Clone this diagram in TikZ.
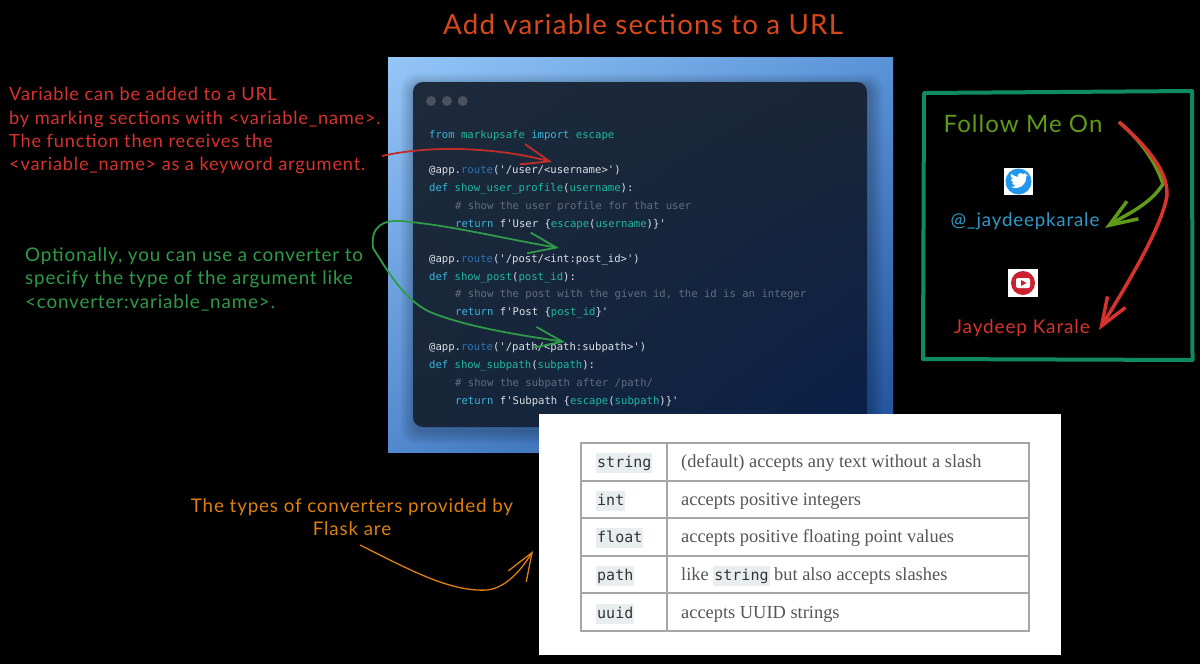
\documentclass[tikz,border=0pt]{standalone}
\usepackage{fontspec}
\setmainfont{Lato}[LetterSpace=4.5]
\newfontfamily\codefont{DejaVu Sans Mono}
\newfontfamily\tablefont{Liberation Serif}
\usetikzlibrary{arrows.meta,positioning,shadings}

\definecolor{titleorange}{HTML}{D9481C}
\definecolor{notered}{HTML}{D6322E}
\definecolor{notegreen}{HTML}{2F9A48}
\definecolor{noteorange}{HTML}{DE7F10}
\definecolor{boxgreen}{HTML}{0F8A62}
\definecolor{follow}{HTML}{5F9A18}
\definecolor{handle}{HTML}{2F9AC8}
\definecolor{codewhite}{HTML}{DCE0E5}
\definecolor{codekey}{HTML}{3BB5D8}
\definecolor{codename}{HTML}{1FB8A0}
\definecolor{coderoute}{HTML}{2A74B8}
\definecolor{codegrey}{HTML}{626E7E}
\definecolor{tagfill}{HTML}{E8EEF0}
\definecolor{tablegrey}{HTML}{555555}
\definecolor{skyul}{HTML}{94C6F7}
\definecolor{skyur}{HTML}{5A93D8}
\definecolor{skyll}{HTML}{5288CE}
\definecolor{skylr}{HTML}{1E4F9A}
\definecolor{panelul}{HTML}{1C2A3C}
\definecolor{panelur}{HTML}{1A2637}
\definecolor{panelll}{HTML}{182638}
\definecolor{panellr}{HTML}{0A2048}
\definecolor{dotgrey}{HTML}{4A5260}
\definecolor{birdblue}{HTML}{2196EA}
\definecolor{tubered}{HTML}{CC2030}

\newcommand{\ckey}[1]{\textcolor{codekey}{#1}}
\newcommand{\cname}[1]{\textcolor{codename}{#1}}
\newcommand{\croute}[1]{\textcolor{coderoute}{#1}}
\newcommand{\tagbox}[1]{{\setlength{\fboxsep}{1pt}\colorbox{tagfill}{\rule[-5pt]{0pt}{18pt}\codefont\fontsize{15}{18}\selectfont\textcolor{black!80}{#1}}}}

\begin{document}
\begin{tikzpicture}
[x=1pt, y=-1pt,
% STYLES
% The note style is used for the hand written remarks
note/.style={inner sep=0pt, align=left, font=\fontsize{18.2}{23.4}\selectfont},
% The code style is used for one line of the listing
code/.style={anchor=west, inner sep=0pt, yshift=-1pt, text height=8pt, text depth=2.5pt, text=codewhite, font=\codefont\fontsize{10.6}{12}\selectfont},
comment/.style={code, text=codegrey},
% The cell styles are used for the table of converters
tagcell/.style={anchor=base west, inner sep=0pt},
textcell/.style={anchor=base west, inner sep=0pt, text=tablegrey, font=\tablefont\fontsize{18.4}{20}\selectfont},
rowline/.style={draw=black!35, line width=1.2pt},
% The handline style is used for the drawn arrows
handline/.style={line width=1.8pt, -{Straight Barb[length=28pt,width=21pt]}},
dot/.style={circle, fill=dotgrey, inner sep=0pt, minimum size=10pt}]

\useasboundingbox (0,0) rectangle (1200,664);
\fill[black] (0,0) rectangle (1200,664);

% Draw title
\node [inner sep=0pt, text=titleorange, font=\fontsize{27.7}{30}\selectfont] (title) at (643,24) {Add variable sections to a URL};

% Draw code window
\shade [upper left=skyul, upper right=skyur, lower left=skyll, lower right=skylr]
(388,57) rectangle (893,452);
\fill [black, opacity=.035, rounded corners=16pt] (401,74) rectangle (883,444);
\fill [black, opacity=.035, rounded corners=15pt] (403,76) rectangle (881,442);
\fill [black, opacity=.035, rounded corners=14pt] (405,78) rectangle (879,440);
\fill [black, opacity=.035, rounded corners=13pt] (407,80) rectangle (877,438);
\fill [black, opacity=.035, rounded corners=12pt] (409,81) rectangle (875,436);
\fill [black, opacity=.035, rounded corners=11pt] (411,82) rectangle (873,434);
\fill [black, opacity=.035, rounded corners=10pt] (412,82) rectangle (871,432);
\shade [rounded corners=10pt, upper left=panelul, upper right=panelur, lower left=panelll, lower right=panellr]
(413,82) rectangle (867,427);
\node [dot] (dot1) at (431,101) {};
\node [dot, right=5.5pt of dot1] (dot2) {};
\node [dot, right=5.5pt of dot2] (dot3) {};

% Draw code lines
\node [code] (code-import) at (429,134.5) {\ckey{from} \cname{markupsafe} \ckey{import} \cname{escape}};
\node [code] (code-user) at (429,170) {@app.\croute{route}('/user/<username>')};
\node [code] (code-user-def) at (429,188) {\ckey{def} \cname{show\_user\_profile}(\cname{username}):};
\node [comment] (code-user-com) at (455,206) {\# show the user profile for that user};
\node [code] (code-user-ret) at (455,223.5) {\ckey{return} f'User \{\cname{escape}(\cname{username})\}'};
\node [code] (code-post) at (429,258.5) {@app.\croute{route}('/post/<int:post\_id>')};
\node [code] (code-post-def) at (429,276.5) {\ckey{def} \cname{show\_post}(\cname{post\_id}):};
\node [comment] (code-post-com) at (455,294) {\# show the post with the given id, the id is an integer};
\node [code] (code-post-ret) at (455,312) {\ckey{return} f'Post \{\cname{post\_id}\}'};
\node [code] (code-path) at (429,347) {@app.\croute{route}('/path/<path:subpath>')};
\node [code] (code-path-def) at (429,365) {\ckey{def} \cname{show\_subpath}(\cname{subpath}):};
\node [comment] (code-path-com) at (455,382.5) {\# show the subpath after /path/};
\node [code] (code-path-ret) at (455,400.5) {\ckey{return} f'Subpath \{\cname{escape}(\cname{subpath})\}'};

% Draw notes
\node [note, anchor=north west, text=notered] (note-red) at (9,87) {Variable can be added to a URL\\
by marking sections with <variable\_name>.\\
The function then receives the\\
<variable\_name> as a keyword argument.};
\node [note, anchor=north west, text=notegreen, font=\fontsize{18.8}{23.8}\selectfont] (note-green) at (25,247) {Optionally, you can use a converter to\\
specify the type of the argument like\\
<converter:variable\_name>.};
\node [note, align=center, text=noteorange, font=\fontsize{18.8}{23.4}\selectfont] (note-orange) at (352,517) {The types of converters provided by\\
Flask are};

% Draw table
\node [fill=white, inner sep=0pt, minimum width=522pt, minimum height=241.5pt] (card) at (800,534.5) {};
\draw [rowline, fill=white] (581,443) rectangle (1029,631);
\draw [rowline] (581,481) -- (1029,481);
\draw [rowline] (581,518) -- (1029,518);
\draw [rowline] (581,556) -- (1029,556);
\draw [rowline] (581,593) -- (1029,593);
\draw [rowline] (667,443) -- (667,631);

\node [tagcell] (tag-string) at (596,467) {\tagbox{string}};
\node [tagcell] (tag-int) at (596,505) {\tagbox{int}};
\node [tagcell] (tag-float) at (596,542) {\tagbox{float}};
\node [tagcell] (tag-path) at (596,580) {\tagbox{path}};
\node [tagcell] (tag-uuid) at (596,618) {\tagbox{uuid}};

\node [textcell] (text-string) at (681,467) {(default) accepts any text without a slash};
\node [textcell] (text-int) at (681,505) {accepts positive integers};
\node [textcell] (text-float) at (681,542) {accepts positive floating point values};
\node [textcell] (text-path) at (681,580) {like \tagbox{string} but also accepts slashes};
\node [textcell] (text-uuid) at (681,618) {accepts UUID strings};

% Draw follow box
\draw [boxgreen, line width=4pt, line join=round] (924,93) -- (1192,91) -- (1192.5,360) -- (923,359) -- cycle;
\node [inner sep=0pt, text=follow, font=\fontsize{24}{30}\selectfont] (follow-me) at (1023,124) {Follow Me On};
\node [inner sep=0pt, text=handle, font=\fontsize{18.7}{22}\selectfont] (handle-twitter) at (1025,221) {@\_jaydeepkarale};
\node [inner sep=0pt, text=notered, font=\fontsize{19}{22}\selectfont] (handle-youtube) at (1022,328) {Jaydeep Karale};

% twitter icon
\node [fill=white, inner sep=0pt, minimum width=29pt, minimum height=27pt] (icon-twitter) at (1018.5,181.5) {};
\fill [birdblue] (icon-twitter.center) circle (13pt);
\fill [white] (1011,187) .. controls (1019,190) and (1027,185) .. (1026,177) -- (1028,174.5) -- (1025,175) -- (1026,173) -- (1023,174) .. controls (1020,172) and (1017,174) .. (1018,177) .. controls (1015,177) and (1013,175) .. (1011,173.5) .. controls (1010,176) and (1011,178) .. (1013,179) -- (1011,179) .. controls (1011,181) and (1012,182) .. (1014,183) -- (1012,183) .. controls (1013,185) and (1014,185) .. (1016,186) .. controls (1014,187) and (1013,187) .. (1011,187) -- cycle;

% youtube icon
\node [fill=white, inner sep=0pt, minimum width=30pt, minimum height=28pt] (icon-youtube) at (1023,283) {};
\fill [tubered] (icon-youtube.center) circle (12pt);
\fill [white, rounded corners=2pt] (1016,278) rectangle (1030,288);
\fill [tubered] (1021,280) -- (1026.5,283) -- (1021,286) -- cycle;

% Draw the arrows
\coordinate (start-red) at (382,156);
\coordinate (tip-user) at (552,162);
\coordinate (start-green) at (373,248);
\coordinate (tip-post) at (559,248);
\coordinate (tip-path) at (565,342);
\coordinate (start-orange) at (360,545);
\coordinate (tip-table) at (533,551);
\coordinate (start-follow) at (1119,122);
\coordinate (tip-twitter) at (1105,228);
\coordinate (tip-youtube) at (1099,330);

\draw [handline, draw=notered!90!black] (start-red) .. controls (430,145) and (495,147) .. (tip-user);
\draw [handline, draw=notegreen] (start-green) .. controls (370,225) and (385,220) .. (400,221) .. controls (450,225) and (500,238) .. (tip-post);
\draw [handline, draw=notegreen] (start-green) .. controls (390,275) and (405,300) .. (430,312) .. controls (470,328) and (520,335) .. (tip-path);
\draw [handline, line width=1.3pt, draw=noteorange] (start-orange) .. controls (410,570) and (450,592) .. (487,590) .. controls (505,588) and (520,572) .. (tip-table);
\draw [handline, line width=3.5pt, draw=follow] (start-follow) .. controls (1140,140) and (1155,160) .. (1163,184) .. controls (1150,205) and (1125,215) .. (tip-twitter);
\draw [handline, line width=3.5pt, draw=notered] (start-follow) .. controls (1145,145) and (1168,170) .. (1167,195) .. controls (1163,225) and (1127,285) .. (tip-youtube);

\end{tikzpicture}
\end{document}
